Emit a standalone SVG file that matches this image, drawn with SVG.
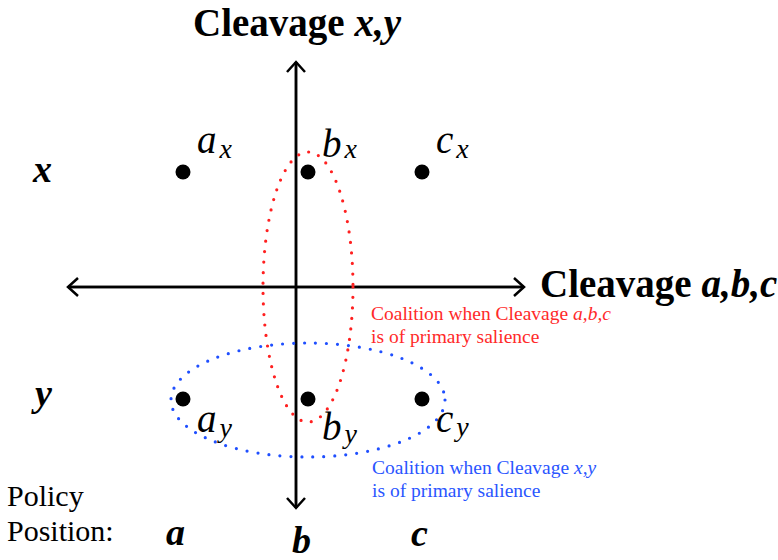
<svg xmlns="http://www.w3.org/2000/svg" width="778" height="560" viewBox="0 0 778 560">
<style>
text{font-family:"Liberation Serif","Times New Roman",serif}
.ax{stroke:#000;stroke-width:2.5;fill:none}
.big{font-weight:bold;font-size:39px;fill:#000}
.lab{font-style:italic;font-size:39px;fill:#000}
.sub{font-style:italic;font-size:28px;fill:#000}
.row{font-style:italic;font-weight:bold;font-size:38px;fill:#000}
.pol{font-size:30px;fill:#000}
.note{font-size:19.5px}
.dot{fill:#000}
</style>
<defs>
<marker id="arr" markerWidth="18" markerHeight="20" refX="13" refY="10" orient="auto" markerUnits="userSpaceOnUse">
<polyline points="3,1 13,10 3,19" fill="none" stroke="#000" stroke-width="2.5"/>
</marker>
</defs>
<g id="connectors">
<line class="ax" x1="296" y1="508" x2="296" y2="62" marker-end="url(#arr)"/>
<line class="ax" x1="296" y1="62" x2="296" y2="508" marker-end="url(#arr)"/>
<line class="ax" x1="68" y1="287" x2="524" y2="287" marker-end="url(#arr)"/>
<line class="ax" x1="524" y1="287" x2="68" y2="287" marker-end="url(#arr)"/>
</g>
<g id="coalition-red">
<ellipse cx="308" cy="287" rx="45" ry="135" fill="none" stroke="#ff2020" stroke-width="3.2" stroke-linecap="round" stroke-dasharray="0 10.5"/>
<text class="note" x="371" y="320" fill="#ff2a2a">Coalition when Cleavage <tspan font-style="italic">a,b,c</tspan></text>
<text class="note" x="371" y="343" fill="#ff2a2a">is of primary salience</text>
</g>
<g id="coalition-blue">
<ellipse cx="308" cy="400" rx="137" ry="57" fill="none" stroke="#1f4fff" stroke-width="3.2" stroke-linecap="round" stroke-dasharray="0 11"/>
<text class="note" x="372" y="474" fill="#2a55ff">Coalition when Cleavage <tspan font-style="italic">x,y</tspan></text>
<text class="note" x="372" y="497" fill="#2a55ff">is of primary salience</text>
</g>
<g id="title-xy"><text class="big" x="193" y="36">Cleavage <tspan font-style="italic">x,y</tspan></text></g>
<g id="title-abc"><text class="big" x="540" y="297">Cleavage <tspan font-style="italic">a,b,c</tspan></text></g>
<g id="ax"><circle class="dot" cx="183" cy="172" r="7.5"/><text class="lab" x="197" y="153">a<tspan class="sub" dx="3" dy="5">x</tspan></text></g>
<g id="bx"><circle class="dot" cx="308" cy="172" r="7.5"/><text class="lab" x="322" y="157">b<tspan class="sub" dx="3" dy="1">x</tspan></text></g>
<g id="cx"><circle class="dot" cx="422" cy="172" r="7.5"/><text class="lab" x="436" y="153">c<tspan class="sub" dx="3" dy="5">x</tspan></text></g>
<g id="ay"><circle class="dot" cx="183" cy="399" r="7.5"/><text class="lab" x="197" y="432">a<tspan class="sub" dx="3" dy="5">y</tspan></text></g>
<g id="by"><circle class="dot" cx="308" cy="399" r="7.5"/><text class="lab" x="322" y="440">b<tspan class="sub" dx="3" dy="3">y</tspan></text></g>
<g id="cy"><circle class="dot" cx="422" cy="399" r="7.5"/><text class="lab" x="436" y="432">c<tspan class="sub" dx="3" dy="4">y</tspan></text></g>
<g id="row-x"><text class="row" x="33" y="182">x</text></g>
<g id="row-y"><text class="row" x="35" y="406">y</text></g>
<g id="policy">
<text class="pol" x="7" y="506">Policy</text>
<text class="pol" x="7" y="541">Position:</text>
<text class="row" x="166" y="545">a</text>
<text class="row" x="292" y="553">b</text>
<text class="row" x="411" y="546">c</text>
</g>
</svg>
